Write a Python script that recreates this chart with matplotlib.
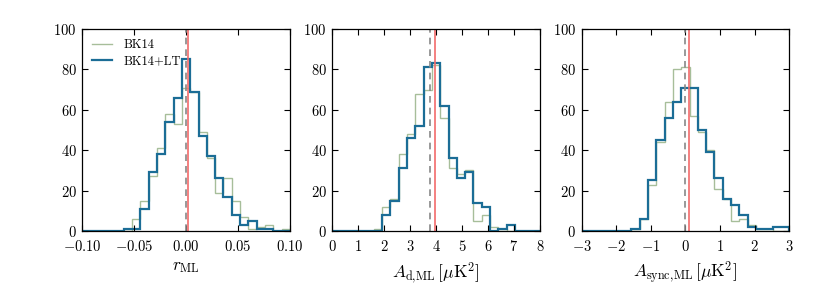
import numpy as np
import matplotlib
matplotlib.use("Agg")
import matplotlib.pyplot as plt

plt.rcParams["font.family"] = "serif"
plt.rcParams["font.serif"] = ["cmr10", "DejaVu Serif"]
plt.rcParams["mathtext.fontset"] = "cm"
plt.rcParams["axes.formatter.use_mathtext"] = True

# 25 equal bins over each axis range
r_range = (-0.1, 0.1)
ad_range = (0.0, 8.0)
async_range = (-3.0, 3.0)
n_bins = 25

r_bk14 = [0, 0, 0, 0, 0, 0, 6, 15, 27, 41, 58, 53, 71, 69, 49, 36, 19, 26, 15, 7, 1, 2, 3, 0, 1]
r_bk14lt = [0, 0, 0, 0, 0, 1, 1, 11, 29, 38, 54, 66, 85, 69, 47, 37, 26, 17, 8, 3, 5, 1, 1, 0, 0]

ad_bk14 = [0, 0, 0, 0, 0, 1, 12, 16, 38, 48, 68, 70, 82, 56, 31, 28, 30, 5, 8, 2, 1, 0, 0, 0, 0]
ad_bk14lt = [0, 0, 0, 0, 0, 0, 8, 15, 31, 46, 52, 81, 83, 62, 36, 26, 29, 14, 12, 0, 1, 3, 0, 0, 0]

async_bk14 = [0, 0, 0, 0, 0, 0, 1, 6, 23, 44, 64, 80, 81, 57, 49, 40, 21, 16, 5, 6, 3, 1, 1, 0, 0]
async_bk14lt = [0, 0, 0, 0, 0, 0, 1, 6, 25, 45, 56, 64, 71, 71, 50, 39, 26, 16, 13, 8, 2, 1, 1, 2, 2]

input_vals = [0.0, 3.75, 0.0]
mean_vals = [0.002, 3.95, 0.1]

xlabels = [r"$r_{\rm ML}$", r"$A_{\rm d,\!ML}\,[\mu{\rm K}^2]$", r"$A_{\rm sync,\!ML}\,[\mu{\rm K}^2]$"]
xticks = [[-0.10, -0.05, 0.00, 0.05, 0.10], list(range(0, 9)), list(range(-3, 4))]
xticklabels = [["$-0.10$", "$-0.05$", "$0.00$", "$0.05$", "$0.10$"],
               [f"${t}$" for t in range(0, 9)],
               ["$-3$", "$-2$", "$-1$", "$0$", "$1$", "$2$", "$3$"]]

green = "#8aa878"
blue = "#1b6d96"

fig = plt.figure(figsize=(8.3, 2.89), dpi=100)
lefts = [0.0992, 0.4004, 0.7008]
panels = [(r_range, r_bk14, r_bk14lt), (ad_range, ad_bk14, ad_bk14lt), (async_range, async_bk14, async_bk14lt)]

for i, (rng, c1, c2) in enumerate(panels):
    ax = fig.add_axes([lefts[i], 0.2007, 0.2500, 0.699])
    edges = np.linspace(rng[0], rng[1], n_bins + 1)
    ax.stairs(c1, edges, color=green, lw=1.0, alpha=0.75, label="BK14")
    ax.stairs(c2, edges, color=blue, lw=1.6, label="BK14+LT")
    ax.axvline(input_vals[i], color="#888888", ls="--", lw=1.2, dashes=(4, 3))
    ax.axvline(mean_vals[i], color="#f26b6b", lw=1.2)
    ax.set_xlim(rng)
    ax.set_ylim(0, 100)
    ax.set_xticks(xticks[i])
    ax.set_xticklabels(xticklabels[i])
    ax.set_yticks([0, 20, 40, 60, 80, 100])
    ax.set_yticklabels([f"${t}$" for t in [0, 20, 40, 60, 80, 100]])
    ax.tick_params(direction="in", top=True, right=True, length=4, labelsize=10.5)
    ax.tick_params(axis="x", pad=6)
    ax.tick_params(axis="y", pad=4)
    ax.set_xlabel(xlabels[i], fontsize=12.5, labelpad=4)
    for s in ax.spines.values():
        s.set_linewidth(0.9)
    if i == 0:
        ax.legend(loc="upper left", frameon=False, fontsize=9, handlelength=1.6,
                  borderaxespad=0.4, labelspacing=0.3, handletextpad=0.9)

fig.savefig("out.png", dpi=100)
